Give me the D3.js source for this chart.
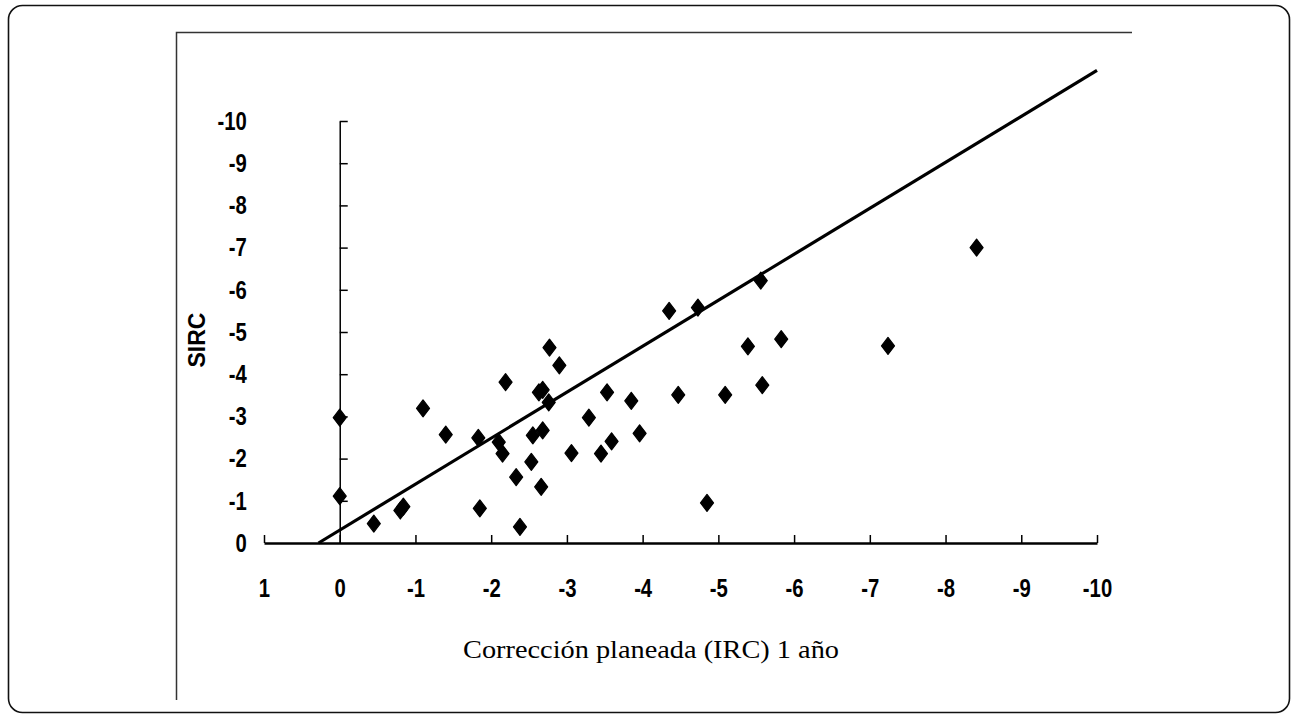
<!DOCTYPE html>
<html>
<head>
<meta charset="utf-8">
<script src="https://cdn.jsdelivr.net/npm/d3@7"></script>
<style>
  html, body { margin: 0; padding: 0; background: #fff; }
  svg { display: block; }
</style>
</head>
<body>
<svg id="chart" width="1295" height="717"></svg>
<script>
// ---- Data ----
const irc  = [0, 0, -0.45, -0.80, -0.84, -1.10, -1.40, -1.83, -1.85, -2.10,
              -2.15, -2.19, -2.33, -2.38, -2.53, -2.55, -2.63, -2.68, -2.68, -2.66,
              -2.76, -2.77, -2.90, -3.06, -3.29, -3.45, -3.53, -3.59, -3.85, -3.96,
              -4.35, -4.47, -4.73, -4.85, -5.09, -5.39, -5.56, -5.58, -5.83, -7.24, -8.41];
const sirc = [-2.97, -1.11, -0.46, -0.77, -0.86, -3.19, -2.57, -2.49, -0.82, -2.39,
              -2.12, -3.81, -1.56, -0.38, -1.92, -2.55, -3.57, -3.63, -2.67, -1.33,
              -3.33, -4.63, -4.21, -2.13, -2.97, -2.12, -3.57, -2.41, -3.37, -2.60,
              -5.50, -3.51, -5.58, -0.95, -3.51, -4.66, -6.22, -3.74, -4.83, -4.67, -7.00];
const fitX = [0.28, -10];
const fitY = [0, -11.2];
const xTicks = [1, 0, -1, -2, -3, -4, -5, -6, -7, -8, -9, -10];
const xTickLabels = ["1", "0", "-1", "-2", "-3", "-4", "-5", "-6", "-7", "-8", "-9", "-10"];
const yTicks = [0, -1, -2, -3, -4, -5, -6, -7, -8, -9, -10];
const yTickLabels = ["0", "-1", "-2", "-3", "-4", "-5", "-6", "-7", "-8", "-9", "-10"];
const yTitle = "SIRC";
const xTitle = "Corrección planeada (IRC) 1 año";

// ---- Layout ----
const svg = d3.select("#chart");
const x = d3.scaleLinear().domain([1, -10]).range([264, 1097]);
const y = d3.scaleLinear().domain([0, -10]).range([543, 121]);

// Outer rounded frame
svg.append("rect")
  .attr("x", 8.5).attr("y", 5.5).attr("width", 1281).attr("height", 707)
  .attr("rx", 14).attr("ry", 14)
  .attr("fill", "none").attr("stroke", "#111").attr("stroke-width", 1.6);

// Inner partial frame (top and left)
svg.append("path")
  .attr("d", "M176.5,700 V32.5 H1132")
  .attr("fill", "none").attr("stroke", "#333").attr("stroke-width", 1.5);

const tickFont = "'Liberation Sans', Arial, sans-serif";

// X axis
const xAxis = svg.append("g")
  .attr("transform", `translate(0,${y(0)})`)
  .call(d3.axisBottom(x).tickValues(xTicks)
    .tickFormat((d, i) => xTickLabels[i])
    .tickSize(-8).tickSizeOuter(0).tickPadding(36));
xAxis.select(".domain").attr("stroke", "#000").attr("stroke-width", 2.6);
xAxis.selectAll(".tick line").attr("stroke", "#000").attr("stroke-width", 1.5);
xAxis.selectAll(".tick text")
  .attr("fill", "#000")
  .style("font-family", tickFont).style("font-weight", "bold").style("font-size", "26px")
  .attr("transform", "scale(0.78,1)");

// Y axis (placed at x = 0)
const yAxis = svg.append("g")
  .attr("transform", `translate(${x(0)},0)`)
  .call(d3.axisLeft(y).tickValues(yTicks)
    .tickFormat((d, i) => yTickLabels[i])
    .tickSize(-8).tickSizeOuter(0).tickPadding(93));
yAxis.select(".domain").attr("stroke", "#000").attr("stroke-width", 1.5);
yAxis.selectAll(".tick line").attr("stroke", "#000").attr("stroke-width", 1.5)
  .filter(d => d === 0).remove();
yAxis.selectAll(".tick text")
  .attr("fill", "#000")
  .attr("x", 0)
  .style("font-family", tickFont).style("font-weight", "bold").style("font-size", "26px")
  .attr("transform", "translate(-93,0) scale(0.78,1)");

// Regression line
svg.append("path")
  .datum(fitX.map((v, i) => [v, fitY[i]]))
  .attr("d", d3.line().x(d => x(d[0])).y(d => y(d[1])))
  .attr("fill", "none").attr("stroke", "#000").attr("stroke-width", 3.2);

// Points (diamonds)
svg.append("g").selectAll("path")
  .data(irc.map((v, i) => [v, sirc[i]]))
  .join("path")
  .attr("transform", d => `translate(${x(d[0])},${y(d[1])})`)
  .attr("d", "M0,-8.5 L6.5,0 L0,8.5 L-6.5,0 Z")
  .attr("fill", "#000").attr("stroke", "#000").attr("stroke-width", 1.2).attr("stroke-linejoin", "round");

// Y title
svg.append("text")
  .attr("transform", "translate(205,340) rotate(-90)")
  .attr("text-anchor", "middle")
  .style("font-family", tickFont).style("font-weight", "bold").style("font-size", "23px")
  .text(yTitle);

// X title
svg.append("text")
  .attr("x", 651).attr("y", 658)
  .attr("text-anchor", "middle")
  .attr("textLength", 376).attr("lengthAdjust", "spacingAndGlyphs")
  .style("font-family", "'Liberation Serif', 'DejaVu Serif', serif").style("font-size", "25px")
  .text(xTitle);
</script>
</body>
</html>
